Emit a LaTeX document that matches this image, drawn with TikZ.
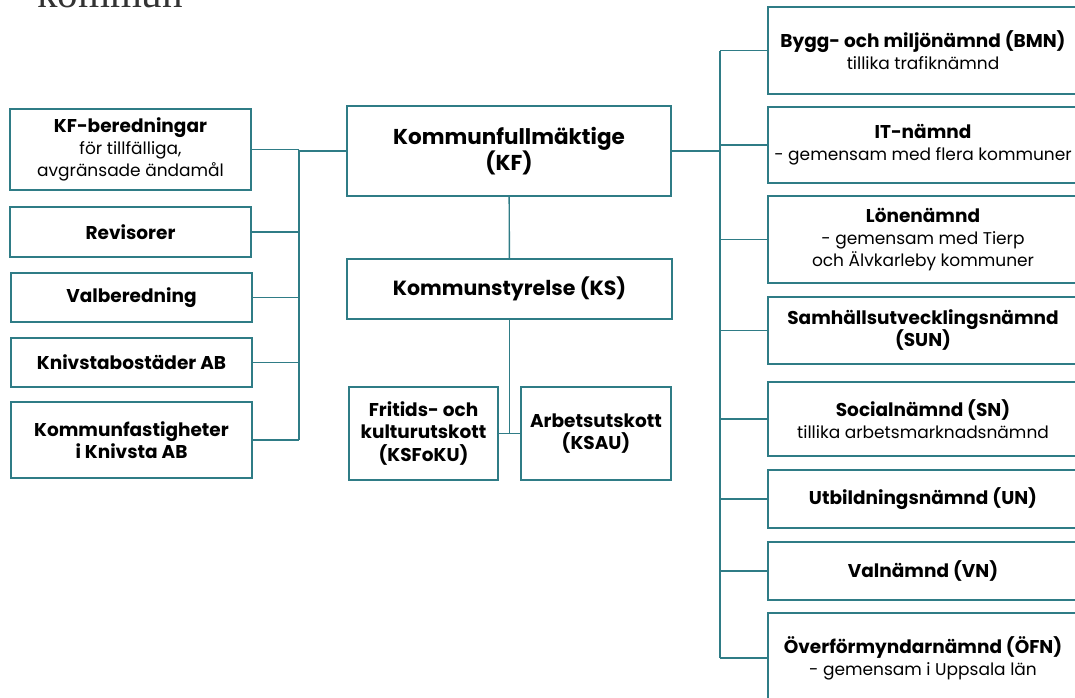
\documentclass[tikz,border=0pt]{standalone}
\usepackage{fontspec}
\setmainfont{Poppins}
\newfontfamily\logofont{Liberation Serif}
\definecolor{orgteal}{HTML}{2F7C86}
\newcommand\hd[1]{{\fontsize{18.5}{22}\selectfont\bfseries #1}}
\tikzset{
  unit/.style={draw=orgteal, line width=1.8pt, align=center, inner sep=0pt,
    font=\fontsize{17}{22}\selectfont},
  conn/.style={draw=orgteal, line width=1.4pt},
  lbox/.style={unit, minimum width=241pt},
  rbox/.style={unit, minimum width=310pt},
}
\begin{document}
\begin{tikzpicture}[x=1pt,y=-1pt]
\useasboundingbox (0,0) rectangle (1075,697);
\clip (0,0) rectangle (1075,697);
% logo text, cut at the top
\node[anchor=base west, inner sep=0pt, text=black!80,
  font=\logofont\fontsize{41}{41}\selectfont] (logo) at (37,7) {kommun};
% left column
\node[lbox, minimum height=81pt] (kfb) at (130.5,149.5)
  {\hd{KF-beredningar}\\för tillfälliga,\\avgränsade ändamål};
\node[lbox, minimum height=50pt] (rev) at (130.5,232) {\hd{Revisorer}};
\node[lbox, minimum height=49pt] (val) at (131.5,297.5) {\hd{Valberedning}};
\node[lbox, minimum height=49pt] (kbo) at (131.5,362.5) {\hd{Knivstabostäder AB}};
\node[lbox, minimum height=76pt] (kfa) at (131.5,440)
  {\hd{Kommunfastigheter}\\\hd{i Knivsta AB}};
% centre column
\node[unit, minimum width=324pt, minimum height=90pt,
  font=\fontsize{21.5}{26}\selectfont\bfseries] (kf) at (509,151)
  {Kommunfullmäktige\\(KF)};
\node[unit, minimum width=325pt, minimum height=60pt,
  font=\fontsize{20.5}{25}\selectfont\bfseries] (ks) at (509.5,289)
  {Kommunstyrelse (KS)};
\node[unit, minimum width=149pt, minimum height=93pt,
  font=\fontsize{18.5}{22.5}\selectfont\bfseries]
  (fri) at (423.5,433.5) {Fritids- och\\kulturutskott\\(KSFoKU)};
\node[unit, minimum width=150pt, minimum height=93pt,
  font=\fontsize{18.5}{22.5}\selectfont\bfseries]
  (au) at (596,433.5) {Arbetsutskott\\(KSAU)};
% right column
\node[rbox, minimum height=87pt] (bmn) at (923,50.5)
  {\hd{Bygg- och miljönämnd (BMN)}\\tillika trafiknämnd};
\node[rbox, minimum height=76pt] (it) at (923,145)
  {\hd{IT-nämnd}\\- gemensam med flera kommuner};
\node[rbox, minimum height=87pt] (lon) at (923,239.5)
  {\hd{Lönenämnd}\\- gemensam med Tierp\\och Älvkarleby kommuner};
\node[rbox, minimum height=67pt] (sun) at (923,330.5)
  {\hd{Samhällsutvecklingsnämnd}\\\hd{(SUN)}};
\node[rbox, minimum height=74pt] (sn) at (923,419)
  {\hd{Socialnämnd (SN)}\\tillika arbetsmarknadsnämnd};
\node[rbox, minimum height=58pt] (un) at (923,499) {\hd{Utbildningsnämnd (UN)}};
\node[rbox, minimum height=58pt] (vn) at (923,571) {\hd{Valnämnd (VN)}};
\node[rbox, minimum height=90pt] (ofn) at (923,658)
  {\hd{Överförmyndarnämnd (ÖFN)}\\- gemensam i Uppsala län};
% connectors
\coordinate (lbus) at (299,0);
\coordinate (rbus) at (720,0);
\foreach \n in {kfb,rev,val,kbo,kfa}
  \draw[conn] (\n.east) -- (\n.east -| lbus);
\draw[conn] (kfb.east -| lbus) -- (kfa.east -| lbus);
\draw[conn] (kf.west) -- (kf.west -| lbus);
\foreach \n in {bmn,it,lon,sun,sn,un,vn,ofn}
  \draw[conn] (\n.west) -- (\n.west -| rbus);
\draw[conn] (bmn.west -| rbus) -- (ofn.west -| rbus);
\draw[conn] (kf.east) -- (kf.east -| rbus);
\draw[conn] (kf) -- (ks);
\draw[conn] (ks.south) -- (ks.south |- fri.east);
\draw[conn] (fri.east) -- (au.west);
\end{tikzpicture}
\end{document}
